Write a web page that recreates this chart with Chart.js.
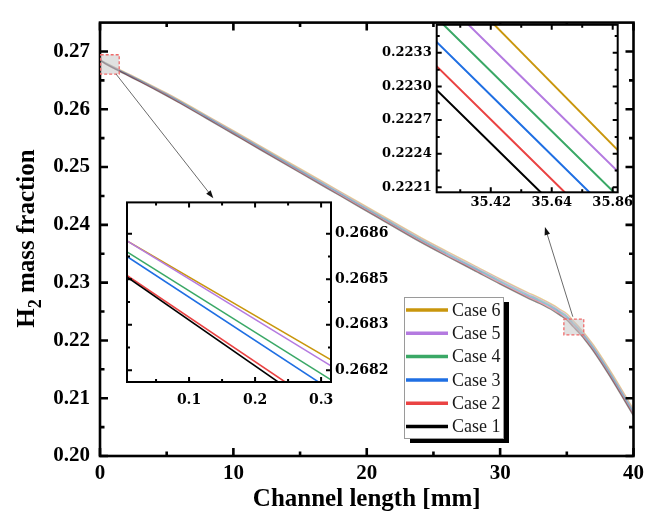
<!DOCTYPE html>
<html>
<head>
<meta charset="utf-8">
<script src="https://cdn.jsdelivr.net/npm/chart.js"></script>
<style>
  html, body { margin: 0; padding: 0; background: #fff; }
  #wrap { position: relative; width: 649px; height: 512px; overflow: hidden; }
  #wrap canvas { position: absolute; }
</style>
</head>
<body>
<div id="wrap">
  <canvas id="main" width="649" height="512" style="left:0;top:0"></canvas>
  <canvas id="zoomStart" width="300" height="225" style="left:117px;top:190px"></canvas>
  <canvas id="zoomBend" width="270" height="205" style="left:372px;top:12px"></canvas>
</div>
<script>
// Channel positions [mm] and H2 mass fraction for each case
const channelLength = [0, 0.4, 1, 2, 3, 4, 5, 6, 8, 10, 12, 15, 18, 21, 24, 26, 28, 30, 32, 33, 34, 34.5, 35, 35.5, 36, 36.5, 37, 38, 39, 40];

const case1 = [0.268466, 0.267862, 0.26711, 0.26593, 0.26476, 0.26356, 0.26232, 0.26104, 0.25838, 0.25570, 0.25302, 0.24902, 0.24503, 0.24104, 0.23705, 0.23457, 0.23216, 0.22974, 0.22742, 0.22634, 0.22510, 0.22434, 0.223515, 0.222300, 0.221085, 0.21965, 0.21810, 0.21459, 0.21083, 0.20692];
const case2 = [0.268471, 0.267885, 0.26717, 0.26600, 0.26484, 0.26365, 0.26241, 0.26114, 0.25849, 0.25582, 0.25315, 0.24916, 0.24518, 0.24120, 0.23722, 0.23474, 0.23234, 0.22992, 0.22761, 0.22654, 0.22530, 0.22454, 0.223726, 0.222511, 0.221296, 0.21987, 0.21832, 0.21482, 0.21106, 0.20715];
const case3 = [0.268533, 0.267963, 0.26722, 0.26607, 0.26492, 0.26373, 0.26251, 0.26124, 0.25860, 0.25594, 0.25328, 0.24930, 0.24533, 0.24135, 0.23738, 0.23491, 0.23252, 0.23011, 0.22780, 0.22673, 0.22550, 0.22475, 0.223942, 0.222727, 0.221512, 0.22009, 0.21854, 0.21504, 0.21129, 0.20739];
const case4 = [0.268548, 0.268002, 0.26728, 0.26613, 0.26499, 0.26381, 0.26260, 0.26134, 0.25871, 0.25605, 0.25340, 0.24943, 0.24547, 0.24150, 0.23754, 0.23508, 0.23269, 0.23028, 0.22799, 0.22692, 0.22569, 0.22494, 0.224157, 0.222942, 0.221727, 0.22030, 0.21876, 0.21526, 0.21151, 0.20761];
const case5 = [0.268584, 0.268051, 0.26733, 0.26620, 0.26507, 0.26390, 0.26270, 0.26144, 0.25882, 0.25618, 0.25353, 0.24958, 0.24562, 0.24166, 0.23771, 0.23526, 0.23287, 0.23048, 0.22819, 0.22712, 0.22590, 0.22516, 0.224376, 0.223161, 0.221946, 0.22053, 0.21899, 0.21549, 0.21175, 0.20786];
const case6 = [0.268584, 0.268076, 0.26739, 0.26627, 0.26515, 0.26399, 0.26279, 0.26154, 0.25893, 0.25630, 0.25366, 0.24972, 0.24577, 0.24182, 0.23788, 0.23543, 0.23305, 0.23066, 0.22838, 0.22732, 0.22610, 0.22536, 0.224638, 0.223382, 0.222126, 0.22075, 0.21921, 0.21572, 0.21198, 0.20809];

const caseNames = ['Case 1', 'Case 2', 'Case 3', 'Case 4', 'Case 5', 'Case 6'];
const caseSeries = [case1, case2, case3, case4, case5, case6];

// Tick values and labels
const mainXTicks = [0, 10, 20, 30, 40];
const mainXLabels = ['0', '10', '20', '30', '40'];
const mainXMinor = [5, 15, 25, 35];
const mainYTicks = [0.20, 0.21, 0.22, 0.23, 0.24, 0.25, 0.26, 0.27];
const mainYLabels = ['0.20', '0.21', '0.22', '0.23', '0.24', '0.25', '0.26', '0.27'];
const mainYMinor = [0.205, 0.215, 0.225, 0.235, 0.245, 0.255, 0.265];

const startXTicks = [0.1, 0.2, 0.3];
const startXLabels = ['0.1', '0.2', '0.3'];
const startXMinor = [0.05, 0.15, 0.25];
const startYTicks = [0.26815, 0.26830, 0.26845, 0.26860];
const startYLabels = ['0.2682', '0.2683', '0.2685', '0.2686'];
const startYMinor = [0.268225, 0.268375, 0.268525];

const bendXTicks = [35.42, 35.64, 35.86];
const bendXLabels = ['35.42', '35.64', '35.86'];
const bendXMinor = [35.31, 35.53, 35.75];
const bendYTicks = [0.2221, 0.2224, 0.2227, 0.2230, 0.2233];
const bendYLabels = ['0.2221', '0.2224', '0.2227', '0.2230', '0.2233'];
const bendYMinor = [0.22225, 0.22255, 0.22285, 0.22315, 0.22345];

// Styling
const caseColors = ['#000000', '#ea4343', '#1f6fe3', '#3aa866', '#b47ae0', '#c9960c'];
const serifBold = (size) => ({ family: '"Liberation Serif", serif', size, weight: 'bold' });
const dejavuBold = (size) => ({ family: '"DejaVu Serif", serif', size, weight: 'bold' });

function withAlpha(hex, a) {
  const n = parseInt(hex.slice(1), 16);
  return `rgba(${(n >> 16) & 255},${(n >> 8) & 255},${n & 255},${a})`;
}

function makeDatasets(width, alpha, smooth) {
  return caseSeries.map((vals, i) => ({
    label: caseNames[i],
    data: channelLength.map((x, j) => ({ x, y: vals[j] })),
    borderColor: withAlpha(caseColors[i], alpha),
    backgroundColor: caseColors[i],
    legendColor: caseColors[i],
    borderWidth: width,
    pointRadius: 0,
    tension: 0,
    cubicInterpolationMode: smooth ? 'monotone' : 'default',
    fill: false
  }));
}

function linearAxis(o) {
  return {
    type: 'linear',
    position: o.position,
    min: o.min,
    max: o.max,
    grid: { display: false, drawTicks: false },
    border: { display: false },
    afterBuildTicks: (s) => { s.ticks = o.ticks.map(v => ({ value: v })); },
    afterFit: (s) => { if (s.isHorizontal()) s.height = o.size; else s.width = o.size; },
    ticks: {
      autoSkip: false,
      maxRotation: 0,
      minRotation: 0,
      padding: o.pad,
      color: '#000',
      font: o.font,
      callback: (v, i) => o.labels[i]
    }
  };
}

// Box outline with inward tick marks on all four sides
function framePlugin(o) {
  return {
    id: 'frame',
    beforeDatasetsDraw(chart) {
      if (!o.fill) return;
      const a = chart.chartArea, ctx = chart.ctx;
      ctx.save();
      ctx.fillStyle = o.fill;
      ctx.fillRect(a.left, a.top, a.right - a.left, a.bottom - a.top);
      ctx.restore();
    },
    afterDatasetsDraw(chart) {
      const { ctx, chartArea: a, scales: { x, y } } = chart;
      ctx.save();
      ctx.strokeStyle = '#000';
      ctx.lineWidth = o.width;
      ctx.lineCap = 'butt';
      ctx.beginPath();
      const vx = (vals, len) => vals.forEach(v => {
        const p = x.getPixelForValue(v);
        ctx.moveTo(p, a.bottom); ctx.lineTo(p, a.bottom - len);
        ctx.moveTo(p, a.top); ctx.lineTo(p, a.top + len);
      });
      const hy = (vals, len) => vals.forEach(v => {
        const p = y.getPixelForValue(v);
        ctx.moveTo(a.left, p); ctx.lineTo(a.left + len, p);
        ctx.moveTo(a.right, p); ctx.lineTo(a.right - len, p);
      });
      vx(o.xMajor, o.major); vx(o.xMinor, o.minor);
      hy(o.yMajor, o.major); hy(o.yMinor, o.minor);
      ctx.stroke();
      ctx.strokeRect(a.left, a.top, a.right - a.left, a.bottom - a.top);
      ctx.restore();
    }
  };
}

// Magnified regions, pointer arrows, legend and axis titles of the main plot
const zoomBoxes = [
  { x0: 0.05, x1: 1.44, y0: 0.26608, y1: 0.26944 },
  { x0: 34.78, x1: 36.27, y0: 0.22097, y1: 0.22370 }
];
const pointers = [
  { from: [1.2, 0.2661], to: [8.5, 0.2446] },
  { from: [35.45, 0.2241], to: [33.36, 0.23962] }
];

const mainDecor = {
  id: 'mainDecor',
  afterDraw(chart) {
    const { ctx, scales: { x, y } } = chart;
    ctx.save();
    // highlighted regions
    zoomBoxes.forEach(b => {
      const l = x.getPixelForValue(b.x0), r = x.getPixelForValue(b.x1);
      const t = y.getPixelForValue(b.y1), btm = y.getPixelForValue(b.y0);
      ctx.fillStyle = 'rgba(200,200,200,0.55)';
      ctx.fillRect(l, t, r - l, btm - t);
      ctx.setLineDash([3, 2]);
      ctx.strokeStyle = '#f06a6a';
      ctx.lineWidth = 1.3;
      ctx.strokeRect(l, t, r - l, btm - t);
      ctx.setLineDash([]);
    });
    // arrows
    pointers.forEach(p => {
      const x0 = x.getPixelForValue(p.from[0]), y0 = y.getPixelForValue(p.from[1]);
      const x1 = x.getPixelForValue(p.to[0]), y1 = y.getPixelForValue(p.to[1]);
      const ang = Math.atan2(y1 - y0, x1 - x0);
      ctx.strokeStyle = '#6b6b6b';
      ctx.lineWidth = 1;
      ctx.beginPath();
      ctx.moveTo(x0, y0);
      ctx.lineTo(x1 - 6 * Math.cos(ang), y1 - 6 * Math.sin(ang));
      ctx.stroke();
      ctx.fillStyle = '#111';
      ctx.beginPath();
      ctx.moveTo(x1, y1);
      ctx.lineTo(x1 - 8 * Math.cos(ang) + 2.8 * Math.sin(ang), y1 - 8 * Math.sin(ang) - 2.8 * Math.cos(ang));
      ctx.lineTo(x1 - 8 * Math.cos(ang) - 2.8 * Math.sin(ang), y1 - 8 * Math.sin(ang) + 2.8 * Math.cos(ang));
      ctx.closePath();
      ctx.fill();
    });
    // legend with drop shadow
    const lx = 404, ly = 297, lw = 99, lh = 141;
    ctx.fillStyle = '#000';
    ctx.fillRect(lx + 6, ly + 5, lw, lh);
    ctx.fillStyle = '#fff';
    ctx.fillRect(lx, ly, lw, lh);
    ctx.strokeStyle = '#9a9a9a';
    ctx.lineWidth = 1;
    ctx.strokeRect(lx + 0.5, ly + 0.5, lw, lh);
    const ds = chart.data.datasets;
    ctx.font = '18px "Liberation Serif", serif';
    ctx.textBaseline = 'middle';
    ctx.textAlign = 'left';
    for (let k = 0; k < ds.length; k++) {
      const d = ds[ds.length - 1 - k];
      const ry = 310 + k * 23.3;
      ctx.strokeStyle = d.legendColor;
      ctx.lineWidth = 3.5;
      ctx.beginPath();
      ctx.moveTo(406, ry);
      ctx.lineTo(448, ry);
      ctx.stroke();
      ctx.fillStyle = '#1a1a1a';
      ctx.fillText(d.label, 452, ry + 1);
    }
    // x axis title
    ctx.fillStyle = '#000';
    ctx.font = 'bold 25px "Liberation Serif", serif';
    ctx.textAlign = 'center';
    ctx.textBaseline = 'alphabetic';
    ctx.fillText('Channel length [mm]', (chart.chartArea.left + chart.chartArea.right) / 2, 506);
    // y axis title with subscript
    ctx.translate(33.5, 238.5);
    ctx.rotate(-Math.PI / 2);
    const big = 'bold 25px "Liberation Serif", serif';
    const small = 'bold 18px "Liberation Serif", serif';
    ctx.textAlign = 'left';
    ctx.font = big; const wH = ctx.measureText('H').width;
    const wRest = ctx.measureText(' mass fraction').width;
    ctx.font = small; const w2 = ctx.measureText('2').width;
    let sx = -(wH + w2 + wRest) / 2;
    ctx.font = big; ctx.fillText('H', sx, 0); sx += wH;
    ctx.font = small; ctx.fillText('2', sx, 7); sx += w2;
    ctx.font = big; ctx.fillText(' mass fraction', sx, 0);
    ctx.restore();
  }
};

const common = {
  responsive: false,
  animation: false,
  devicePixelRatio: 1,
  events: [],
  plugins: { legend: { display: false }, tooltip: { enabled: false } }
};

// Main plot
new Chart(document.getElementById('main'), {
  type: 'line',
  data: { datasets: makeDatasets(1.3, 0.45, true) },
  options: Object.assign({}, common, {
    layout: { padding: { left: 0, top: 17, right: 13, bottom: 0 } },
    scales: {
      x: linearAxis({ position: 'bottom', min: 0, max: 40, ticks: mainXTicks, labels: mainXLabels, size: 56, pad: 5, font: serifBold(21) }),
      y: linearAxis({ position: 'left', min: 0.20, max: 0.275, ticks: mainYTicks, labels: mainYLabels, size: 100, pad: 10, font: serifBold(21) })
    }
  }),
  plugins: [framePlugin({ width: 2.6, major: 8, minor: 4.5, xMajor: mainXTicks, xMinor: mainXMinor, yMajor: mainYTicks, yMinor: mainYMinor }), mainDecor]
});

// Inset: channel inlet
new Chart(document.getElementById('zoomStart'), {
  type: 'line',
  data: { datasets: makeDatasets(1.6, 1, false) },
  options: Object.assign({}, common, {
    layout: { padding: { left: 10, top: 10, right: 0, bottom: 0 } },
    scales: {
      x: linearAxis({ position: 'bottom', min: 0.006, max: 0.315, ticks: startXTicks, labels: startXLabels, size: 33, pad: 10, font: dejavuBold(14) }),
      y: linearAxis({ position: 'right', min: 0.268111, max: 0.268703, ticks: startYTicks, labels: startYLabels, size: 86, pad: 4, font: dejavuBold(14) })
    }
  }),
  plugins: [framePlugin({ fill: '#fff', width: 2, major: 5, minor: 3, xMajor: startXTicks, xMinor: startXMinor, yMajor: startYTicks, yMinor: startYMinor })]
});

// Inset: bend near the outlet
new Chart(document.getElementById('zoomBend'), {
  type: 'line',
  data: { datasets: makeDatasets(2, 1, false) },
  options: Object.assign({}, common, {
    layout: { padding: { left: 0, top: 10.7, right: 24.3, bottom: 0 } },
    scales: {
      x: linearAxis({ position: 'bottom', min: 35.225, max: 35.878, ticks: bendXTicks, labels: bendXLabels, size: 24.7, pad: 3, font: dejavuBold(13) }),
      y: linearAxis({ position: 'left', min: 0.222056, max: 0.22355, ticks: bendYTicks, labels: bendYLabels, size: 64.7, pad: 5, font: dejavuBold(13) })
    }
  }),
  plugins: [framePlugin({ fill: '#fff', width: 2, major: 5, minor: 3, xMajor: bendXTicks, xMinor: bendXMinor, yMajor: bendYTicks, yMinor: bendYMinor })]
});
</script>
</body>
</html>
